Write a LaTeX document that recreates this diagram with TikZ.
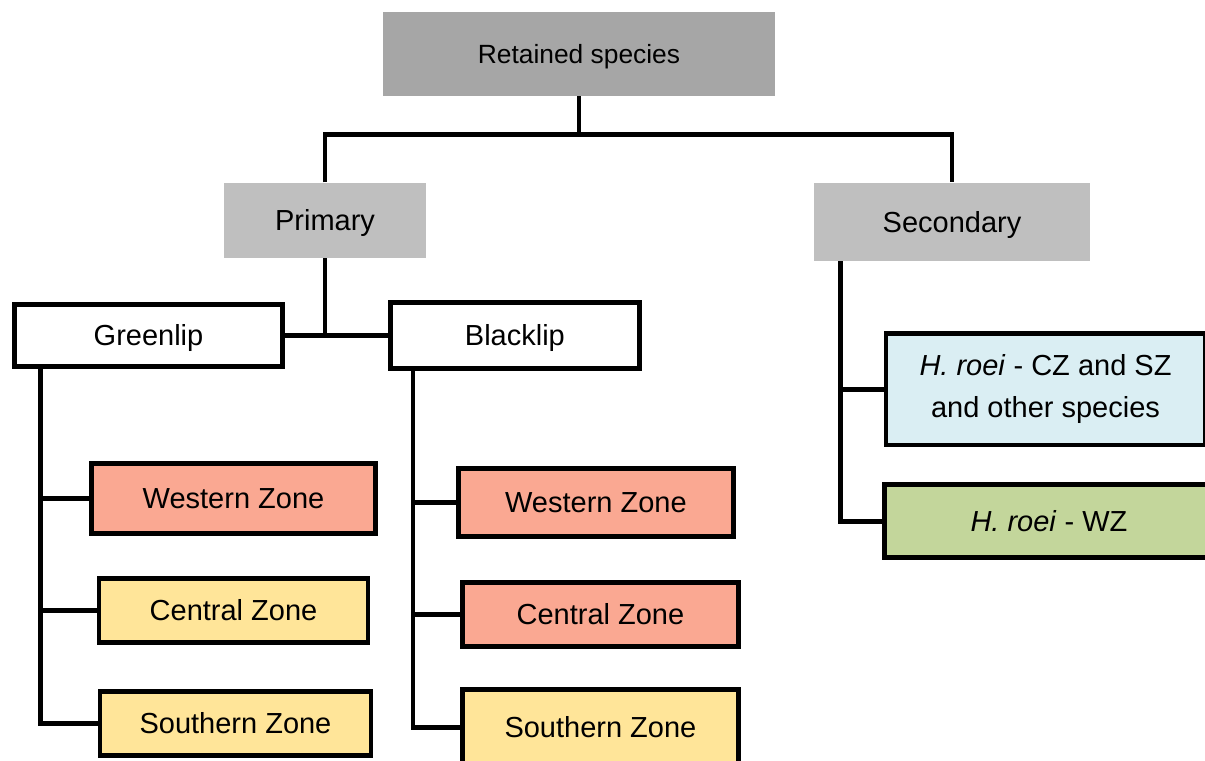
\documentclass[tikz,border=0pt]{standalone}
\usepackage{fontspec}
\setmainfont{Liberation Sans}
\usepackage{xcolor}
\usepackage{tikz}
\usetikzlibrary{positioning}
\definecolor{TopGrey}{HTML}{A6A6A6}
\definecolor{MidGrey}{HTML}{BFBFBF}
\definecolor{ZoneRed}{HTML}{FAA892}
\definecolor{ZoneYellow}{HTML}{FFE599}
\definecolor{RoeiBlue}{HTML}{DAEEF3}
\definecolor{RoeiGreen}{HTML}{C3D69B}

\begin{document}
\begin{tikzpicture}[
            font=\fontsize{16.5}{24}\selectfont,
            head/.style={fill=MidGrey, inner sep=0pt, text height=11.8pt, text depth=0pt},
            box/.style={draw=black, line width=2.8pt, inner sep=0pt, fill=white, text height=11.8pt, text depth=0pt},
            roei/.style={draw=black, line width=2.8pt, inner sep=0pt, align=center},
            link/.style={line width=2.8pt}
        ]
            \path[use as bounding box, fill=white] (0,0) rectangle (24.1,-15.22);
            \clip (0,0) rectangle (24.1,-15.22);

            \node[head, fill=TopGrey, minimum width=7.84cm, minimum height=1.68cm, font=\fontsize{15}{18}\selectfont, text height=10.7pt] (retained) at (11.58,-1.08) {Retained species};
            \node[head, minimum width=4.04cm, minimum height=1.5cm, below=1.72cm of retained, xshift=-5.08cm] (primary) {Primary};
            \node[head, minimum width=5.52cm, minimum height=1.56cm, below=1.72cm of retained, xshift=7.46cm] (secondary) {Secondary};

            \node[box, minimum width=5.36cm, minimum height=1.24cm, below=0.88cm of primary, xshift=-3.53cm] (greenlip) {Greenlip};
            \node[box, minimum width=4.98cm, minimum height=1.32cm, right=2.06cm of greenlip] (blacklip) {Blacklip};

            \node[box, fill=ZoneRed, minimum width=5.68cm, minimum height=1.4cm, below=1.84cm of greenlip, xshift=1.7cm] (glwest) {Western Zone};
            \node[box, fill=ZoneYellow, minimum width=5.38cm, minimum height=1.28cm, below=0.8cm of glwest] (glcentral) {Central Zone};
            \node[box, fill=ZoneYellow, minimum width=5.42cm, minimum height=1.28cm, below=0.88cm of glcentral, xshift=0.04cm] (glsouth) {Southern Zone};

            \node[box, fill=ZoneRed, minimum width=5.5cm, minimum height=1.36cm, below=1.9cm of blacklip, xshift=1.62cm] (blwest) {Western Zone};
            \node[box, fill=ZoneRed, minimum width=5.52cm, minimum height=1.28cm, below=0.82cm of blwest, xshift=0.09cm] (blcentral) {Central Zone};
            \node[box, fill=ZoneYellow, minimum width=5.52cm, minimum height=1.52cm, below=0.76cm of blcentral] (blsouth) {Southern Zone};

            \node[roei, fill=RoeiBlue, minimum width=6.38cm, minimum height=2.23cm, below=1.4cm of secondary, xshift=1.87cm] (roeicz) {\textit{H. roei} - CZ and SZ\\and other species};
            \node[roei, fill=RoeiGreen, minimum width=6.58cm, minimum height=1.46cm, below=0.7cm of roeicz, xshift=0.07cm] (roeiwz) {\textit{H. roei} - WZ};

            % tree links
            \draw[link] (retained.south) -- ++(0,-0.76) coordinate (split);
            \draw[link] (primary.north) |- (split) -| (secondary.north);
            \draw[link] (primary.south) -- (primary.south |- greenlip.east);
            \draw[link] (greenlip.east) -- (blacklip.west);

            \foreach \z in {glwest, glcentral, glsouth}
                \draw[link] ([xshift=0.56cm]greenlip.south west) |- (\z.west);
            \foreach \z in {blwest, blcentral, blsouth}
                \draw[link] ([xshift=0.5cm]blacklip.south west) |- (\z.west);
            \foreach \z in {roeicz, roeiwz}
                \draw[link] ([xshift=0.54cm]secondary.south west) |- (\z.west);

        \end{tikzpicture}
\end{document}
